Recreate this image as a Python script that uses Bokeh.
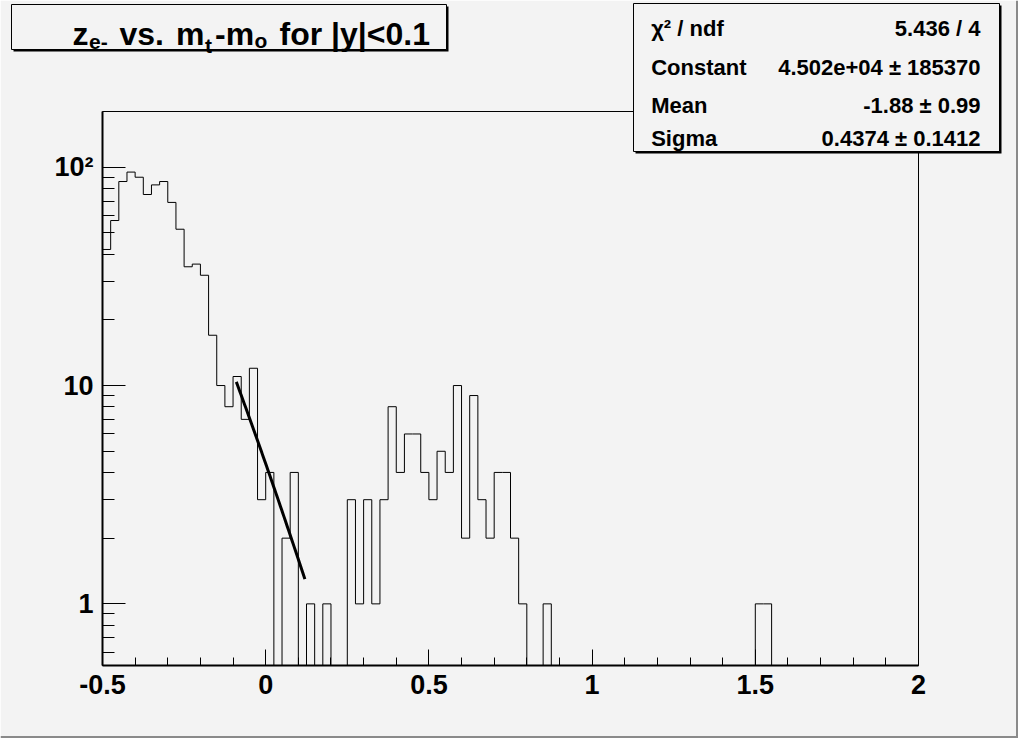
import numpy as np
from bokeh.plotting import figure
from bokeh.layouts import column
from bokeh.models import FixedTicker, Range1d, InlineStyleSheet
from bokeh.core.properties import value
from bokeh.embed import file_html
from bokeh.resources import INLINE

# ---------------- data ----------------
bin_low = -0.5
bin_high = 2.0
n_bins = 100
counts = [42, 57, 86, 95, 90, 75, 83, 86, 69, 52,
          35, 36, 32, 17, 10, 8, 11, 7, 12, 3,
          4, 0, 2, 4, 0, 1, 0, 1, 0, 0,
          3, 1, 3, 1, 3, 8, 4, 6, 6, 4,
          3, 5, 4, 10, 2, 9, 3, 2, 4, 4,
          2, 1, 0, 0, 1, 0, 0, 0, 0, 0,
          0, 0, 0, 0, 0, 0, 0, 0, 0, 0,
          0, 0, 0, 0, 0, 0, 0, 0, 0, 0,
          1, 1, 0, 0, 0, 0, 0, 0, 0, 0,
          0, 0, 0, 0, 0, 0, 0, 0, 0, 0]

x_ticks = [-0.5, 0, 0.5, 1, 1.5, 2]
x_tick_labels = ["-0.5", "0", "0.5", "1", "1.5", "2"]
x_minor = [-0.4, -0.3, -0.2, -0.1, 0.1, 0.2, 0.3, 0.4, 0.6, 0.7, 0.8, 0.9,
           1.1, 1.2, 1.3, 1.4, 1.6, 1.7, 1.8, 1.9]
y_ticks = [1, 10, 100]
y_tick_labels = ["1", "10", "10\u00b2"]
y_minor = [0.6, 0.7, 0.8, 0.9, 2, 3, 4, 5, 6, 7, 8, 9,
           20, 30, 40, 50, 60, 70, 80, 90]

fit_constant = 4.502e4
fit_mean = -1.88
fit_sigma = 0.4374
fit_x_min = -0.09
fit_x_max = 0.12

title_parts = ["z", "e-", "vs.", "m", "t", "-m", "o", "for |y|<0.1"]
title_is_sub = [False, True, False, False, True, False, True, False]

stat_names = ["\u03c7\u00b2 / ndf", "Constant", "Mean", "Sigma"]
stat_values = ["5.436 / 4", "4.502e+04 \u00b1 185370", "-1.88 \u00b1 0.99",
               "0.4374 \u00b1 0.1412"]

# ---------------- layout constants (page pixels) ----------------
W, H = 1018, 738
BG = "#f3f3f3"
FONT = "Liberation Sans"

# ---------------- main histogram figure ----------------
p = figure(width=W, height=H, y_axis_type="log",
           x_range=(bin_low, bin_high), y_range=(0.522, 180),
           output_backend="svg", toolbar_location=None,
           min_border_left=102, min_border_right=W - 102 - 816,
           min_border_top=111, min_border_bottom=H - 111 - 554,
           frame_align=False)
p.background_fill_color = BG
p.border_fill_color = BG
p.grid.visible = False
p.outline_line_color = "black"
p.outline_line_width = 1

p.xaxis.ticker = FixedTicker(ticks=x_ticks, minor_ticks=x_minor)
p.xaxis.major_label_overrides = {t: l for t, l in zip(x_ticks, x_tick_labels)}
p.yaxis.ticker = FixedTicker(ticks=y_ticks, minor_ticks=y_minor)
p.yaxis.major_label_overrides = {t: l for t, l in zip(y_ticks, y_tick_labels)}

for ax in (p.xaxis, p.yaxis):
    ax.axis_line_width = 2
    ax.axis_line_color = "black"
    ax.major_tick_out = 0
    ax.minor_tick_out = 0
    ax.major_tick_line_color = "black"
    ax.minor_tick_line_color = "black"
    ax.major_label_text_font = FONT
    ax.major_label_text_font_style = "bold"
    ax.major_label_text_font_size = "27px"
    ax.major_label_text_color = "black"
p.xaxis.major_tick_in = 16
p.xaxis.minor_tick_in = 8
p.yaxis.major_tick_in = 23
p.yaxis.minor_tick_in = 12
p.xaxis.major_label_standoff = 9
p.yaxis.major_label_standoff = 9

# histogram outline (empty bins go below the frame and are clipped)
edges = np.linspace(bin_low, bin_high, n_bins + 1)
vals = np.array(counts, dtype=float)
vals[vals <= 0] = 1e-3
step_y = np.append(vals, vals[-1])
p.step(edges, step_y, mode="after", line_color="black", line_width=1)

# fit function drawn from the fitted parameters over the fit range
fx = np.linspace(fit_x_min, fit_x_max, 60)
fy = fit_constant * np.exp(-0.5 * ((fx - fit_mean) / fit_sigma) ** 2)
p.line(fx, fy, line_color="black", line_width=3)

# ---------------- overlay figure (page-pixel coordinates) ----------------
ov = figure(width=W, height=H, x_range=Range1d(0, W), y_range=Range1d(H, 0),
            output_backend="svg", toolbar_location=None,
            x_axis_location=None, y_axis_location=None,
            min_border=0, css_classes=["ovl"], frame_align=False)
ov.grid.visible = False
ov.outline_line_color = None
ov.background_fill_alpha = 0
ov.border_fill_alpha = 0


def pane(x0, y0, x1, y1, shadow=2):
    ov.quad(left=[x0 + shadow], right=[x1 + shadow], top=[y0 + shadow],
            bottom=[y1 + shadow], fill_color="black", line_color=None)
    ov.quad(left=[x0], right=[x1], top=[y0], bottom=[y1],
            fill_color=BG, line_color="black", line_width=1)


def txt(xs, ys, texts, sizes, align="left"):
    ov.text(x=xs, y=ys, text=texts, text_font=value(FONT),
            text_font_style="bold", text_font_size=sizes,
            text_align=align, text_baseline="alphabetic", text_color="black")


# canvas bevel (right / bottom edges)
ov.segment(x0=[W - 1.5, 0], y0=[0, H - 1.5], x1=[W - 1.5, W], y1=[H, H - 1.5],
           line_color="#8a8a8a", line_width=2)

# title pave
pane(11, 4, 446, 49)
title_x = [72.0, 88.5, 119.0, 175.5, 204.5, 214.5, 254.0, 279.0]
title_y = [33.3, 41.7, 33.3, 33.3, 45, 33.3, 40, 33.3]
title_size = ["21px" if s else "32px" for s in title_is_sub]
txt(title_x, title_y, title_parts, title_size)

# statistics pave
pane(633, 3, 999, 151)
rows_y = [28.3, 66.7, 105, 138.3]
txt([650.7] * 4, rows_y, stat_names, ["22px"] * 4)
txt([980] * 4, rows_y, stat_values, ["22px"] * 4, align="right")

css = InlineStyleSheet(css=""":host { position: relative; }
.ovl { position: absolute !important; left: 0px !important; top: 0px !important; }""")
layout = column(p, ov, stylesheets=[css])

open("out.html", "w").write(file_html(layout, INLINE))
